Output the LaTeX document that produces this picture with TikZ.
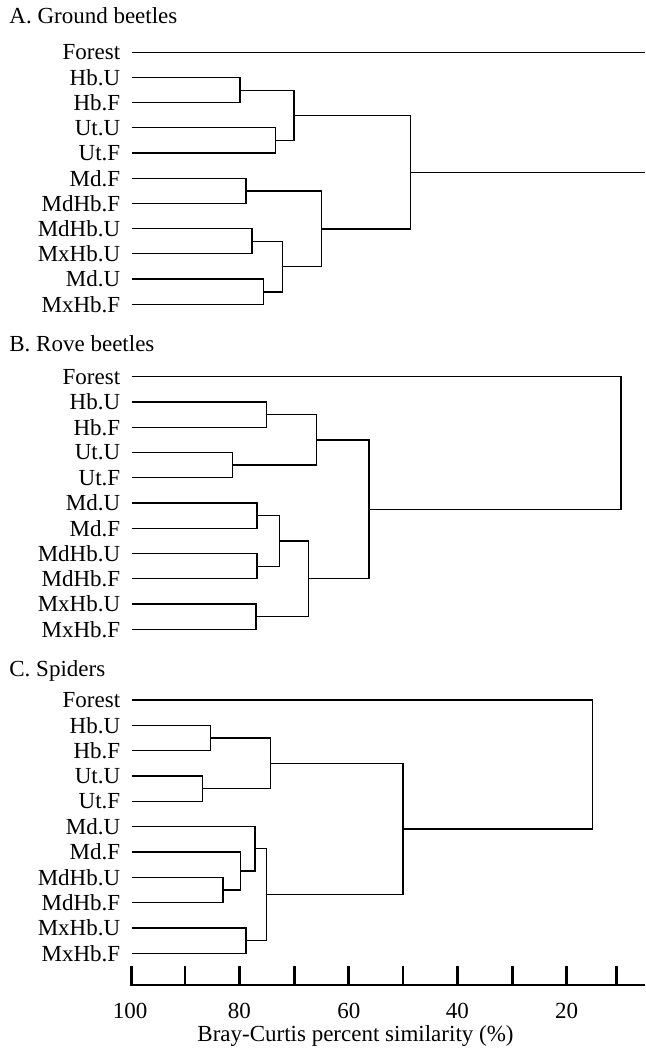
\documentclass[tikz,border=0pt]{standalone}
\usepackage{fontspec}
\setmainfont{Liberation Serif}
\usetikzlibrary{positioning}
\tikzset{
  lbl/.style={inner sep=0pt, font=\fontsize{11.5}{13}\selectfont},
  ttl/.style={inner sep=0pt, font=\fontsize{11.5}{13}\selectfont, anchor=base west},
  link/.style={line width=0.65pt},
  axis/.style={line width=1.35pt},
}

\begin{document}
\begin{tikzpicture}[x=0.5pt, y=-0.5pt]
    \useasboundingbox (0,0) rectangle (645,1051);

    % A. Ground beetles
    \node[ttl] (ta) at (9,23.8) {A. Ground beetles};
    \foreach \lab [count=\i] in {Forest,Hb.U,Hb.F,Ut.U,Ut.F,Md.F,MdHb.F,MdHb.U,MxHb.U,Md.U,MxHb.F} {
      \coordinate (a\i) at (131.6,{52.2+(\i-1)*25.2});
      \node[lbl, left=5.5pt of a\i] (la\i) {\lab};
    }
    \coordinate (aHb) at (240,90.3);
    \coordinate (aUt) at (275.5,140.7);
    \coordinate (aHbUt) at (294,115.5);
    \coordinate (aMd) at (246,191.1);
    \coordinate (aMdx) at (252,241.5);
    \coordinate (aMdu) at (263.3,291.9);
    \coordinate (aMx) at (282.6,266.7);
    \coordinate (aLow) at (321.7,228.9);
    \coordinate (aAll) at (410.5,172.2);
    \coordinate (aOut1) at (645,52.2);
    \coordinate (aOut2) at (645,172.2);
    \draw[link] (a1) -- (aOut1);
    \draw[link] (a2) -| (aHb) |- (a3);
    \draw[link] (a4) -| (aUt) |- (a5);
    \draw[link] (aHb) -| (aHbUt) |- (aUt);
    \draw[link] (a6) -| (aMd) |- (a7);
    \draw[link] (a8) -| (aMdx) |- (a9);
    \draw[link] (a10) -| (aMdu) |- (a11);
    \draw[link] (aMdx) -| (aMx) |- (aMdu);
    \draw[link] (aMd) -| (aLow) |- (aMx);
    \draw[link] (aHbUt) -| (aAll) |- (aLow);
    \draw[link] (aAll) -- (aOut2);

    % B. Rove beetles
    \node[ttl] (tb) at (9,351.7) {B. Rove beetles};
    \foreach \lab [count=\i] in {Forest,Hb.U,Hb.F,Ut.U,Ut.F,Md.U,Md.F,MdHb.U,MdHb.F,MxHb.U,MxHb.F} {
      \coordinate (b\i) at (131.6,{376.7+(\i-1)*25.26});
      \node[lbl, left=5.5pt of b\i] (lb\i) {\lab};
    }
    \coordinate (bHb) at (266.6,414.6);
    \coordinate (bUt) at (232.4,465.1);
    \coordinate (bHbUt) at (316.7,439.9);
    \coordinate (bMd) at (257,515.6);
    \coordinate (bMdHb) at (257,566.2);
    \coordinate (bMdAll) at (279.7,540.9);
    \coordinate (bMx) at (255.9,616.7);
    \coordinate (bLow) at (308.5,578.8);
    \coordinate (bAll) at (369,509.3);
    \coordinate (bRoot) at (621,443);
    \draw[link] (b2) -| (bHb) |- (b3);
    \draw[link] (b4) -| (bUt) |- (b5);
    \draw[link] (bHb) -| (bHbUt) |- (bUt);
    \draw[link] (b6) -| (bMd) |- (b7);
    \draw[link] (b8) -| (bMdHb) |- (b9);
    \draw[link] (bMd) -| (bMdAll) |- (bMdHb);
    \draw[link] (b10) -| (bMx) |- (b11);
    \draw[link] (bMdAll) -| (bLow) |- (bMx);
    \draw[link] (bHbUt) -| (bAll) |- (bLow);
    \draw[link] (b1) -| (bRoot) |- (bAll);

    % C. Spiders
    \node[ttl] (tc) at (9,676) {C. Spiders};
    \foreach \lab [count=\i] in {Forest,Hb.U,Hb.F,Ut.U,Ut.F,Md.U,Md.F,MdHb.U,MdHb.F,MxHb.U,MxHb.F} {
      \coordinate (c\i) at (131.6,{700+(\i-1)*25.33});
      \node[lbl, left=5.5pt of c\i] (lc\i) {\lab};
    }
    \coordinate (cHb) at (210.6,738);
    \coordinate (cUt) at (202.8,788.7);
    \coordinate (cHbUt) at (270.3,763.3);
    \coordinate (cMdHb) at (223,890);
    \coordinate (cMdF) at (240.6,871);
    \coordinate (cMdU) at (255,848.8);
    \coordinate (cMx) at (246,940.7);
    \coordinate (cLow) at (266.6,894.8);
    \coordinate (cAll) at (403,829);
    \coordinate (cRoot) at (592.4,764.5);
    \draw[link] (c2) -| (cHb) |- (c3);
    \draw[link] (c4) -| (cUt) |- (c5);
    \draw[link] (cHb) -| (cHbUt) |- (cUt);
    \draw[link] (c8) -| (cMdHb) |- (c9);
    \draw[link] (c7) -| (cMdF) |- (cMdHb);
    \draw[link] (c6) -| (cMdU) |- (cMdF);
    \draw[link] (c10) -| (cMx) |- (c11);
    \draw[link] (cMdU) -| (cLow) |- (cMx);
    \draw[link] (cHbUt) -| (cAll) |- (cLow);
    \draw[link] (c1) -| (cRoot) |- (cAll);

    % axis
    \coordinate (ax0) at (130,985);
    \coordinate (ax1) at (645,985);
    \draw[axis] (ax0) -- (ax1);
    \foreach \x in {131.7,185,239.3,294.3,348.8,403.1,457.4,512.3,566.7,616.7}
      \draw[axis] (\x,966) -- (\x,985);
    \foreach \v/\x in {100/130,80/239.3,60/348.8,40/457.4,20/566.7}
      \node[lbl, anchor=base] (s\v) at (\x,1018.3) {\v};
    \node[lbl, anchor=base] (xl) at (355.5,1041.5) {Bray-Curtis percent similarity (\%)};
\end{tikzpicture}
\end{document}
